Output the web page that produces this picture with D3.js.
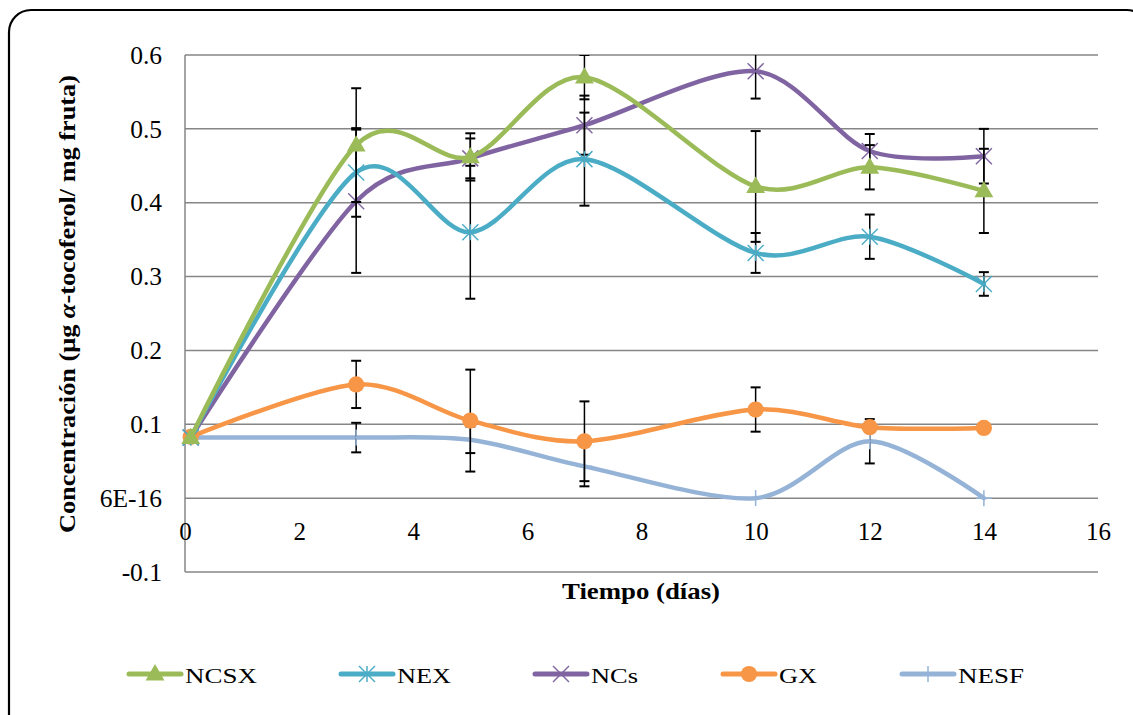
<!DOCTYPE html>
<html>
<head>
<meta charset="utf-8">
<script src="https://cdn.jsdelivr.net/npm/d3@7"></script>
<style>
  body { margin: 0; background: #fff; }
</style>
</head>
<body>
<svg id="chart"></svg>
<script>
// values
const days = [0.1, 3, 5, 7, 10, 12, 14];

const ncsx = [0.082, 0.478, 0.462, 0.570, 0.422, 0.448, 0.416];
const ncsxErr = [0, 0.077, 0.032, 0.030, 0.075, 0.030, 0.057];

const nex = [0.082, 0.441, 0.360, 0.459, 0.332, 0.354, 0.290];
const nexErr = [0, 0.060, 0.090, 0.063, 0.027, 0.030, 0.016];

const ncs = [0.082, 0.402, 0.460, 0.505, 0.578, 0.470, 0.463];
const ncsErr = [0, 0.097, 0.027, 0.040, 0.037, 0.023, 0.037];

const gx = [0.083, 0.154, 0.105, 0.077, 0.120, 0.096, 0.095];
const gxErr = [0, 0.032, 0.069, 0.054, 0.030, 0, 0];

const nesf = [0.082, 0.082, 0.079, 0.043, 0.0, 0.077, 0.0];
const nesfErr = [0, 0.020, 0.018, 0.027, 0, 0.030, 0];

const yTicks = [-0.1, 0, 0.1, 0.2, 0.3, 0.4, 0.5, 0.6];
const yTickLabels = ["-0.1", "6E-16", "0.1", "0.2", "0.3", "0.4", "0.5", "0.6"];
const xTicks = [0, 2, 4, 6, 8, 10, 12, 14, 16];

const series = [
  {name: "NCSX", values: ncsx, err: ncsxErr, color: "#9BBB59", marker: "triangle"},
  {name: "NEX", values: nex, err: nexErr, color: "#4BACC6", marker: "asterisk"},
  {name: "NCs", values: ncs, err: ncsErr, color: "#8064A2", marker: "cross"},
  {name: "GX", values: gx, err: gxErr, color: "#F79646", marker: "circle"},
  {name: "NESF", values: nesf, err: nesfErr, color: "#95B3D7", marker: "plus"}
];

const serif = '"Liberation Serif", "Times New Roman", serif';

let width = 1133;
let height = 715;
let plotLeft = 185, plotRight = 1098, plotTop = 55, plotBottom = 572;

let svg = d3.select('#chart')
  .attr('width', width)
  .attr('height', height);

// rounded frame
svg.append('rect')
  .attr('x', 9).attr('y', 10)
  .attr('width', 1140).attr('height', 730)
  .attr('rx', 22).attr('ry', 22)
  .attr('fill', 'white')
  .attr('stroke', 'black')
  .attr('stroke-width', 2.2);

let xScale = d3.scaleLinear().domain([0, 16]).range([plotLeft, plotRight]);
let yScale = d3.scaleLinear().domain([-0.1, 0.6]).range([plotBottom, plotTop]);

svg.append('clipPath').attr('id', 'plot')
  .append('rect')
  .attr('x', plotLeft - 20).attr('y', plotTop)
  .attr('width', plotRight - plotLeft + 40).attr('height', plotBottom - plotTop);

// gridlines
svg.append('g')
  .selectAll('line')
  .data(yTicks)
  .enter()
  .append('line')
  .attr('x1', plotLeft).attr('x2', plotRight)
  .attr('y1', d => yScale(d)).attr('y2', d => yScale(d))
  .attr('stroke', '#868686')
  .attr('stroke-width', 1.5);

svg.append('line')
  .attr('x1', plotLeft).attr('x2', plotLeft)
  .attr('y1', plotTop).attr('y2', plotBottom)
  .attr('stroke', '#868686')
  .attr('stroke-width', 1.5);

// axis labels
let yAxis = d3.axisLeft(yScale)
  .tickValues(yTicks)
  .tickFormat((d, i) => yTickLabels[i])
  .tickSize(0)
  .tickPadding(23);

let gy = svg.append('g')
  .attr('transform', 'translate(' + plotLeft + ',0)')
  .call(yAxis);
gy.select('.domain').remove();
gy.selectAll('text')
  .style('font-family', serif)
  .style('font-size', '25.5px')
  .attr('fill', 'black');

let xAxis = d3.axisBottom(xScale)
  .tickValues(xTicks)
  .tickFormat(d3.format('d'))
  .tickSize(0)
  .tickPadding(24);

let gxAxis = svg.append('g')
  .attr('transform', 'translate(0,' + yScale(0) + ')')
  .call(xAxis);
gxAxis.select('.domain').remove();
gxAxis.selectAll('text')
  .style('font-family', serif)
  .style('font-size', '25px')
  .attr('fill', 'black');

// titles
svg.append('text')
  .attr('x', 641)
  .attr('y', 599)
  .attr('text-anchor', 'middle')
  .attr('textLength', 158)
  .attr('lengthAdjust', 'spacingAndGlyphs')
  .style('font-family', serif)
  .style('font-size', '24px')
  .style('font-weight', 'bold')
  .text('Tiempo (días)');

let yTitle = svg.append('text')
  .attr('transform', 'translate(75,304) rotate(-90)')
  .attr('text-anchor', 'middle')
  .attr('textLength', 458)
  .attr('lengthAdjust', 'spacingAndGlyphs')
  .style('font-family', serif)
  .style('font-size', '24px')
  .style('font-weight', 'bold');
yTitle.append('tspan').text('Concentración (μg ');
yTitle.append('tspan').style('font-style', 'italic').text('α');
yTitle.append('tspan').text('-tocoferol/ mg fruta)');

// markers
let drawMarker = (g, type, color, x, y, s) => {
  if (type === 'triangle') {
    g.append('path')
      .attr('d', d3.symbol().type(d3.symbolTriangle).size(s * 11)())
      .attr('transform', 'translate(' + x + ',' + (y + 1) + ')')
      .attr('fill', color);
  } else if (type === 'circle') {
    g.append('circle').attr('cx', x).attr('cy', y).attr('r', s * 0.58).attr('fill', color);
  } else {
    let r = s / 2;
    let segs = [];
    if (type === 'asterisk') {
      segs = [[-r, -r, r, r], [-r, r, r, -r], [0, -r, 0, r]];
    } else if (type === 'cross') {
      segs = [[-r, -r, r, r], [-r, r, r, -r]];
    } else if (type === 'plus') {
      segs = [[-r, 0, r, 0], [0, -r, 0, r]];
    }
    g.selectAll(null)
      .data(segs)
      .enter()
      .append('line')
      .attr('x1', d => x + d[0]).attr('y1', d => y + d[1])
      .attr('x2', d => x + d[2]).attr('y2', d => y + d[3])
      .attr('stroke', color)
      .attr('stroke-width', 1.5);
  }
};

let markerSize = m => m === 'circle' || m === 'triangle' ? 14 : 16;

let line = d3.line()
  .x(d => xScale(d[0]))
  .y(d => yScale(d[1]))
  .curve(d3.curveCardinal.tension(0.1));

let plot = svg.append('g').attr('clip-path', 'url(#plot)');

// NESF at the back, NCSX on top
series.slice().reverse().forEach(s => {
  let pts = days.map((d, i) => [d, s.values[i]]);
  plot.append('path')
    .datum(pts)
    .attr('d', line)
    .attr('fill', 'none')
    .attr('stroke', s.color)
    .attr('stroke-width', 4.5)
    .attr('stroke-linejoin', 'round')
    .attr('stroke-linecap', 'round');

  let eb = plot.append('g');
  days.forEach((d, i) => {
    if (!s.err[i]) return;
    let x = xScale(d);
    let y1 = yScale(s.values[i] + s.err[i]);
    let y2 = yScale(s.values[i] - s.err[i]);
    eb.append('line').attr('x1', x).attr('x2', x).attr('y1', y1).attr('y2', y2)
      .attr('stroke', 'black').attr('stroke-width', 1.5);
    [y1, y2].forEach(yy => {
      eb.append('line').attr('x1', x - 5).attr('x2', x + 5).attr('y1', yy).attr('y2', yy)
        .attr('stroke', 'black').attr('stroke-width', 2);
    });
  });

  let mk = plot.append('g');
  pts.forEach(p => drawMarker(mk, s.marker, s.color, xScale(p[0]), yScale(p[1]), markerSize(s.marker)));
});

// legend
let legendX = [127, 339, 533, 721, 900];
let legendTextW = [72, 54, 47, 38, 66];
let legend = svg.append('g');
series.forEach((s, i) => {
  let x0 = legendX[i];
  let ly = 674;
  legend.append('line')
    .attr('x1', x0 + 2).attr('x2', x0 + 54)
    .attr('y1', ly).attr('y2', ly)
    .attr('stroke', s.color)
    .attr('stroke-width', 5)
    .attr('stroke-linecap', 'round');
  drawMarker(legend, s.marker, s.color, x0 + 28, ly, markerSize(s.marker));
  legend.append('text')
    .attr('x', x0 + 58)
    .attr('y', 683)
    .attr('textLength', legendTextW[i])
    .attr('lengthAdjust', 'spacingAndGlyphs')
    .style('font-family', serif)
    .style('font-size', '22px')
    .text(s.name);
});
</script>
</body>
</html>
